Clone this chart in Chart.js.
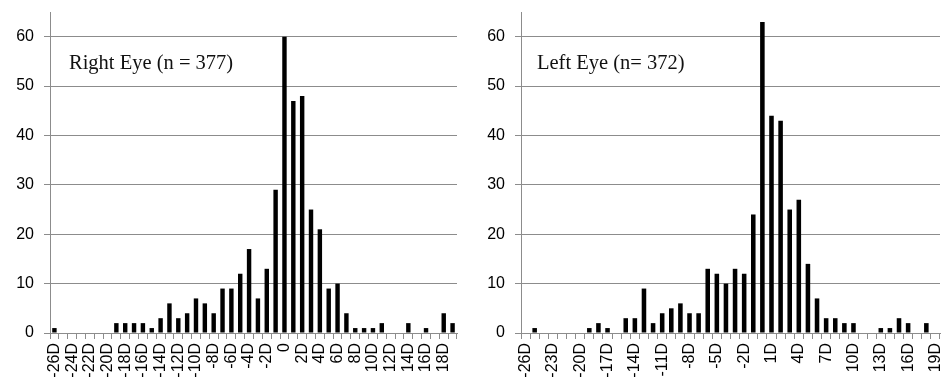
<!DOCTYPE html>
<html>
<head>
<meta charset="utf-8">
<script src="https://cdn.jsdelivr.net/npm/chart.js@4/dist/chart.umd.min.js"></script>
<style>
  body { margin: 0; background: #fff; }
  .box { position: absolute; top: 0; width: 471px; height: 384px; }
</style>
</head>
<body>
<div class="box" style="left:0"><canvas id="rightChart"></canvas></div>
<div class="box" style="left:471px"><canvas id="leftChart"></canvas></div>
<script>
// refraction categories, -26D .. 19D
const categories = ['-26D','-25D','-24D','-23D','-22D','-21D','-20D','-19D','-18D','-17D',
  '-16D','-15D','-14D','-13D','-12D','-11D','-10D','-9D','-8D','-7D','-6D','-5D','-4D',
  '-3D','-2D','-1D','0','1D','2D','3D','4D','5D','6D','7D','8D','9D','10D','11D','12D',
  '13D','14D','15D','16D','17D','18D','19D'];

const rightEye = [1,0,0,0,0,0,0,2,2,2,2,1,3,6,3,4,7,6,4,9,9,12,17,7,13,29,
  60,47,48,25,21,9,10,4,1,1,1,2,0,0,2,0,1,0,4,2];
const leftEye = [0,1,0,0,0,0,0,1,2,1,0,3,3,9,2,4,5,6,4,4,13,12,10,13,12,24,
  63,44,43,25,27,14,7,3,3,2,2,0,0,1,1,3,2,0,2,0];

const yTicks = { min: 0, max: 65, step: 10 };

// draws the "Right Eye (n = 377)" text inside the plot
const boxTitle = {
  id: 'boxTitle',
  afterDraw(chart, args, opts) {
    const ctx = chart.ctx;
    const area = chart.chartArea;
    ctx.save();
    ctx.font = '20.5px "Liberation Serif", serif';
    ctx.fillStyle = '#111';
    ctx.textBaseline = 'alphabetic';
    ctx.fillText(opts.text, area.left + opts.dx, area.top + 57);
    ctx.restore();
  }
};

function makeChart(id, values, title, every, dx, padRight) {
  const ctx = document.getElementById(id).getContext('2d');
  return new Chart(ctx, {
    type: 'bar',
    data: {
      labels: categories,
      datasets: [{
        data: values,
        backgroundColor: '#000',
        barPercentage: 0.5,
        categoryPercentage: 1
      }]
    },
    options: {
      responsive: true,
      maintainAspectRatio: false,
      animation: false,
      layout: { padding: { top: 12, right: padRight, left: 0, bottom: 0 } },
      plugins: {
        legend: { display: false },
        tooltip: { enabled: false },
        boxTitle: { text: title, dx: dx }
      },
      scales: {
        x: {
          offset: true,
          grid: { offset: true, drawOnChartArea: false, drawTicks: true, tickLength: 6, color: '#8c8c8c' },
          border: { color: '#8c8c8c' },
          ticks: {
            autoSkip: false,
            minRotation: 90,
            maxRotation: 90,
            padding: 4,
            color: '#000',
            font: { family: '"Liberation Sans", Arial, sans-serif', size: 16 },
            callback: function (v, i) { return i % every === 0 ? categories[i] : ''; }
          },
          afterFit(scale) {
            scale.height = 51;
            scale.paddingLeft = 0;
            scale.paddingRight = 0;
          }
        },
        y: {
          min: yTicks.min,
          max: yTicks.max,
          grid: { color: '#8c8c8c', tickLength: 6 },
          border: { color: '#8c8c8c' },
          ticks: {
            stepSize: yTicks.step,
            includeBounds: false,
            padding: 10,
            color: '#000',
            font: { family: '"Liberation Sans", Arial, sans-serif', size: 16 }
          },
          afterFit(scale) {
            scale.width = 50;
            scale.paddingTop = 0;
            scale.paddingBottom = 0;
          }
        }
      }
    },
    plugins: [boxTitle]
  });
}

makeChart('rightChart', rightEye, 'Right Eye (n = 377)', 2, 19, 14);
makeChart('leftChart', leftEye, 'Left Eye (n= 372)', 3, 16, 2);
</script>
</body>
</html>
